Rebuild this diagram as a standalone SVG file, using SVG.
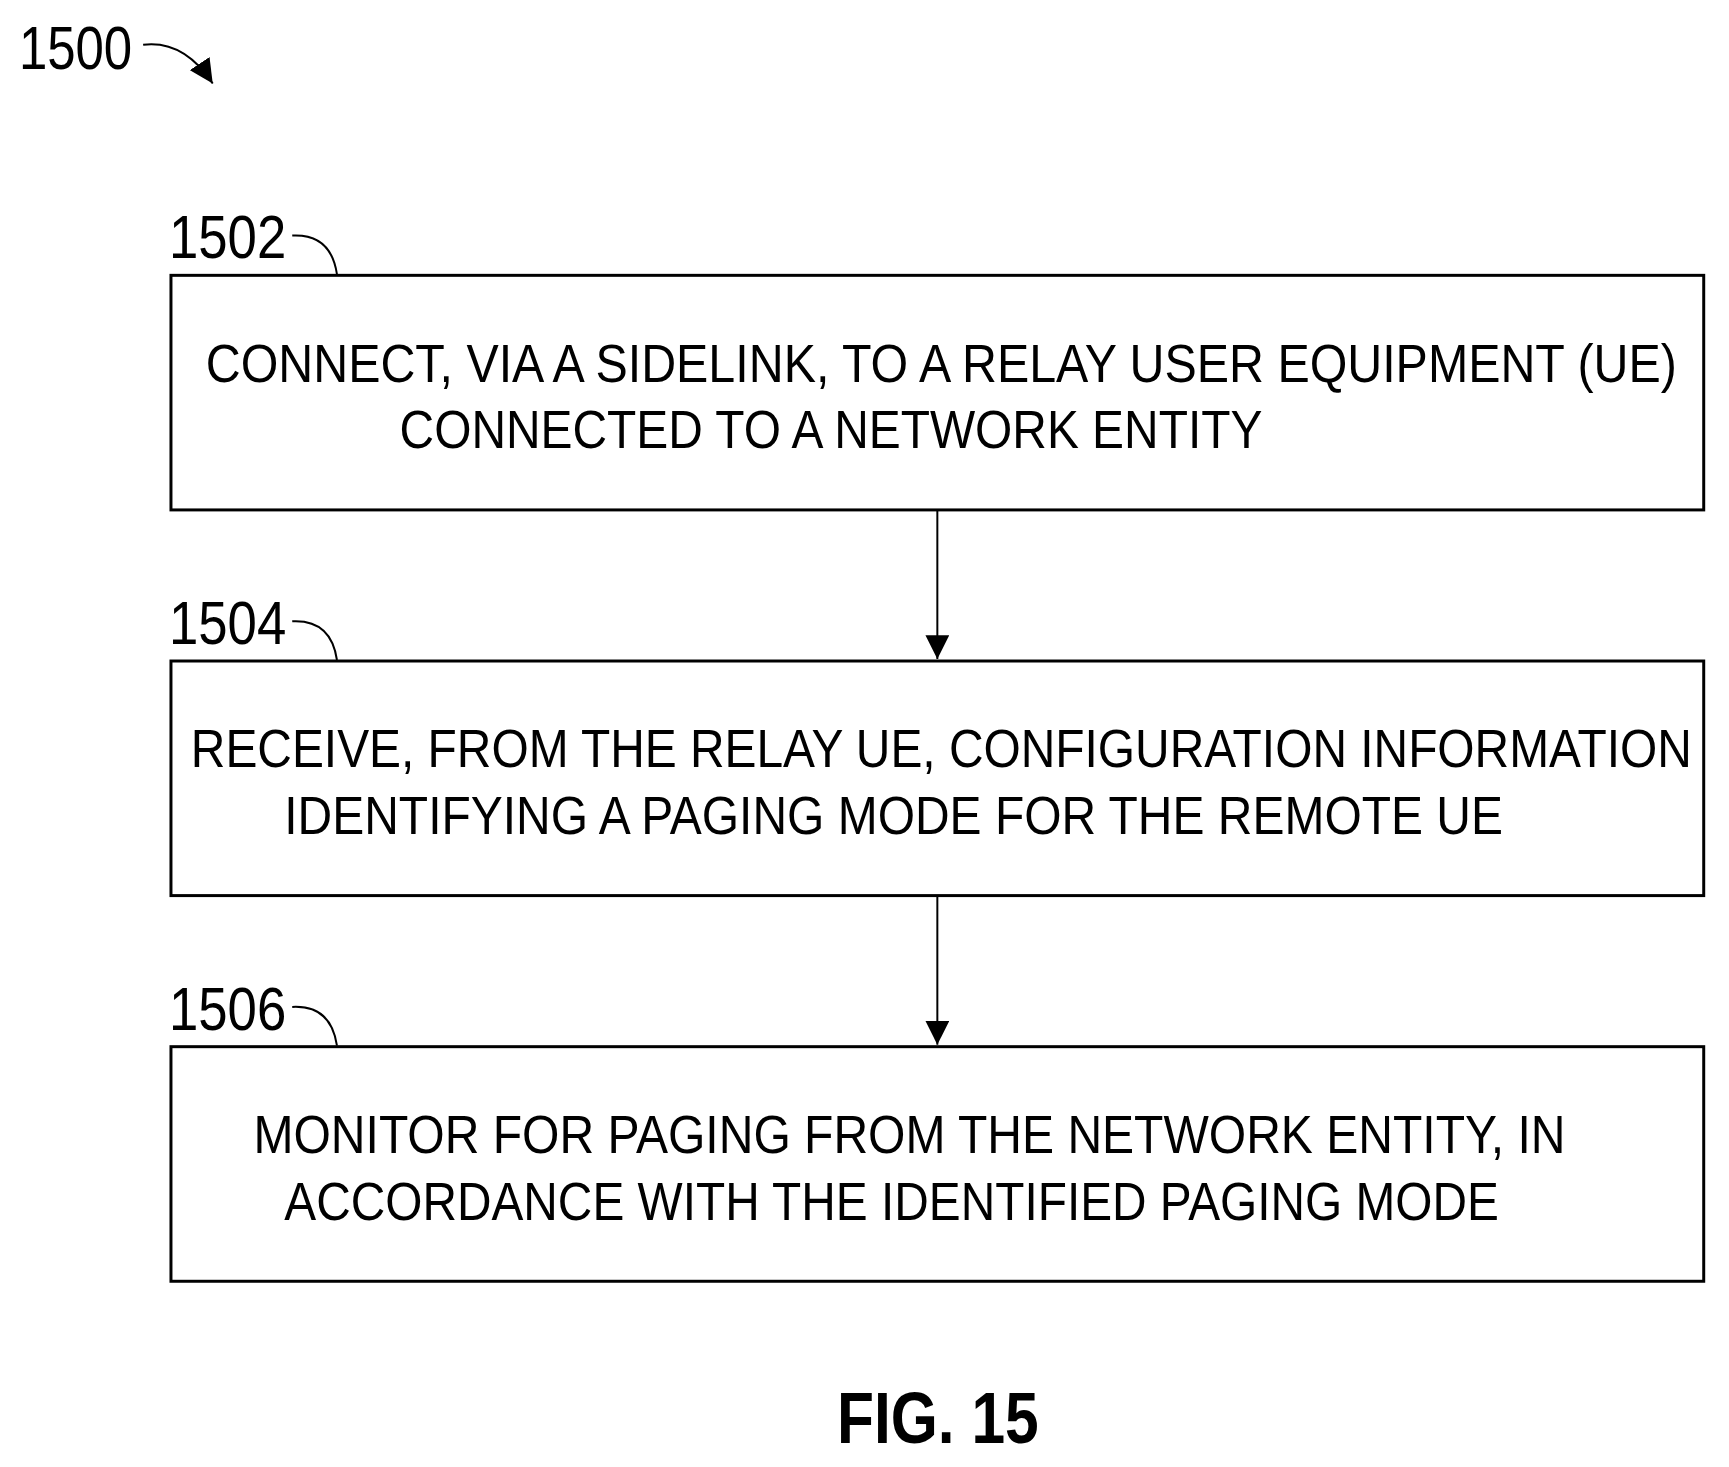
<svg xmlns="http://www.w3.org/2000/svg" width="1729" height="1467" viewBox="0 0 1729 1467">
<style>
.t{font-family:"Liberation Sans",Arial,sans-serif;font-size:54px;fill:#000}
.l{font-family:"Liberation Sans",Arial,sans-serif;font-size:62px;fill:#000}
.b{fill:#fff;stroke:#000;stroke-width:3}
.c{fill:none;stroke:#000;stroke-width:2}
</style>
<defs>
<marker id="h" viewBox="0 0 10 10" refX="10" refY="5" markerWidth="24" markerHeight="24" markerUnits="userSpaceOnUse" orient="auto"><path d="M0,0 L10,5 L0,10 Z" fill="#000"/></marker></defs>
<g transform="scale(0.994)">
<g id="n1500"><text class="l" x="19" y="69" textLength="114" lengthAdjust="spacingAndGlyphs">1500</text><path class="c" d="M144,45 Q185,40 214,84" marker-end="url(#h)"/></g>
<g id="n1502"><text class="l" x="170" y="260" textLength="118" lengthAdjust="spacingAndGlyphs">1502</text><path class="c" d="M294,237 Q333,235 339,276"/>
<rect class="b" x="172" y="277" width="1542" height="236"/>
<text class="t" x="207" y="384" textLength="1480" lengthAdjust="spacingAndGlyphs">CONNECT, VIA A SIDELINK, TO A RELAY USER EQUIPMENT (UE)</text>
<text class="t" x="402" y="451" textLength="868" lengthAdjust="spacingAndGlyphs">CONNECTED TO A NETWORK ENTITY</text></g>
<g id="n1504"><text class="l" x="170" y="648" textLength="118" lengthAdjust="spacingAndGlyphs">1504</text><path class="c" d="M294,625 Q333,623 339,664"/>
<rect class="b" x="172" y="665" width="1542" height="236"/>
<text class="t" x="192" y="772" textLength="1510" lengthAdjust="spacingAndGlyphs">RECEIVE, FROM THE RELAY UE, CONFIGURATION INFORMATION</text>
<text class="t" x="286" y="839" textLength="1226" lengthAdjust="spacingAndGlyphs">IDENTIFYING A PAGING MODE FOR THE REMOTE UE</text></g>
<g id="n1506"><text class="l" x="170" y="1036" textLength="118" lengthAdjust="spacingAndGlyphs">1506</text><path class="c" d="M294,1013 Q333,1011 339,1052"/>
<rect class="b" x="172" y="1053" width="1542" height="236"/>
<text class="t" x="255" y="1160" textLength="1320" lengthAdjust="spacingAndGlyphs">MONITOR FOR PAGING FROM THE NETWORK ENTITY, IN</text>
<text class="t" x="286" y="1227" textLength="1222" lengthAdjust="spacingAndGlyphs">ACCORDANCE WITH THE IDENTIFIED PAGING MODE</text></g>
<g id="connectors">
<line class="c" x1="943" y1="513" x2="943" y2="663" marker-end="url(#h)"/>
<line class="c" x1="943" y1="901" x2="943" y2="1051" marker-end="url(#h)"/>
</g>
<text x="842" y="1452" font-family="Liberation Sans,Arial,sans-serif" font-weight="bold" font-size="72" textLength="203" lengthAdjust="spacingAndGlyphs">FIG. 15</text>
</g>
</svg>
